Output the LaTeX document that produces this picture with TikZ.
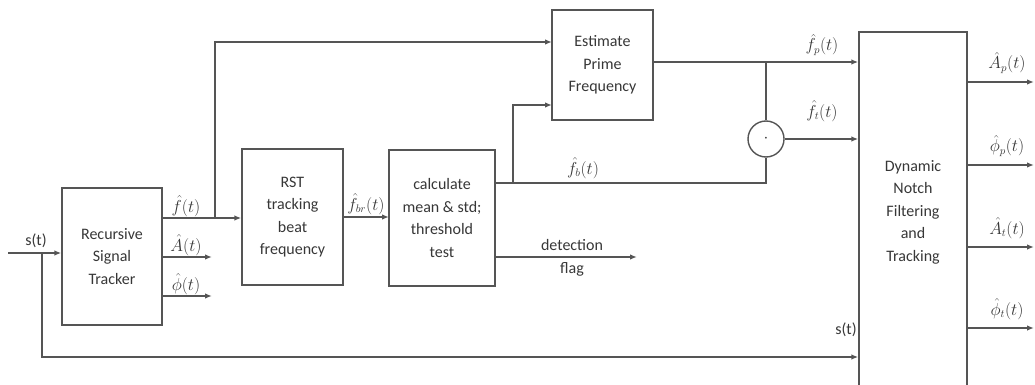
\documentclass[tikz,border=0pt]{standalone}
\usepackage{fontspec}
\setmainfont{Carlito}
\usetikzlibrary{arrows.meta}
\definecolor{wireg}{RGB}{85,85,85}
\definecolor{txtg}{RGB}{55,55,55}
\tikzset{
  blk/.style={draw=wireg, rectangle, align=center, inner sep=0pt, text=txtg},
  lbl/.style={text=txtg, inner sep=0pt, font=\fontsize{16}{18}\selectfont},
}
\begin{document}
\begin{tikzpicture}[x=1pt, y=-1pt, >={Latex[length=7pt,width=5.5pt]}, line width=1.4pt, color=wireg,
  font=\fontsize{16}{22.5}\selectfont]
\useasboundingbox (0,0) rectangle (1035,385);
\node[blk, minimum width=100pt, minimum height=137pt] (rst) at (112,256.5) {Recursive\\Signal\\Tracker};
\node[blk, minimum width=101pt, minimum height=136pt] (beat) at (292.5,217) {RST\\tracking\\beat\\frequency};
\node[blk, minimum width=106pt, minimum height=136pt] (calc) at (442,218) {calculate\\mean \& std;\\threshold\\test};
\node[blk, minimum width=101pt, minimum height=110pt] (prime) at (602.5,65) {Estimate\\Prime\\Frequency};
\node[blk, minimum width=108pt, minimum height=360pt] (dnft) at (913,212) {Dynamic\\Notch\\Filtering\\and\\Tracking};
\node[draw=wireg, circle, minimum size=36pt, inner sep=0pt, text=txtg] (sub) at (766,139) {$\cdot$};
% input s(t)
\coordinate (in) at (8,253);
\coordinate (tap) at (42,253);
\coordinate (sbot) at (42,357);
\draw[->] (in) -- (in -| rst.west);
\draw[->] (tap) -- (sbot) -- (sbot -| dnft.west);
\node[lbl] (sin) at (36,241) {s(t)};
\node[lbl] (sout) at (846,330) {s(t)};
% tracker outputs
\coordinate (fj) at (215,218);
\coordinate (ao) at (212,257);
\coordinate (po) at (212,296);
\coordinate (ptop) at (552,42);
\draw[->] (rst.east |- fj) -- (beat.west |- fj);
\draw[->] (fj) |- (ptop);
\draw[->] (rst.east |- ao) -- (ao);
\draw[->] (rst.east |- po) -- (po);
\node[lbl] (lf) at (186,206) {$\hat{f}(t)$};
\node[lbl] (la) at (186,245) {$\hat{A}(t)$};
\node[lbl] (lp) at (186,284) {$\hat{\phi}(t)$};
% beat frequency
\coordinate (br) at (389,217);
\draw[->] (beat.east |- br) -- (br);
\node[lbl] (lbr) at (366,204) {$\hat{f}_{br}(t)$};
% mean / threshold outputs
\coordinate (bj) at (513,183);
\coordinate (bc) at (766,183);
\coordinate (plow) at (552,105);
\coordinate (det) at (637,257);
\draw (calc.east |- bj) -- (bc) -- (sub.south);
\draw[->] (bj) |- (plow);
\draw[->] (calc.east |- det) -- (det);
\node[lbl] (lb) at (583,168) {$\hat{f}_{b}(t)$};
\node[lbl] (ldet) at (572,245) {detection};
\node[lbl] (lflag) at (572,269) {flag};
% prime frequency
\coordinate (pj) at (766,62);
\draw[->] (prime.east |- pj) -- (pj -| dnft.west);
\draw (pj) -- (sub.north);
\draw[->] (sub.east) -- (sub.east -| dnft.west);
\node[lbl] (lfp) at (822,45) {$\hat{f}_{p}(t)$};
\node[lbl] (lft) at (822,111) {$\hat{f}_{t}(t)$};
% notch outputs
\foreach \yy/\txt [count=\i] in {82/{\hat{A}_{p}(t)}, 165/{\hat{\phi}_{p}(t)}, 247/{\hat{A}_{t}(t)}, 328/{\hat{\phi}_{t}(t)}} {
  \coordinate (o\i) at (1034,\yy);
  \draw[->] (dnft.east |- o\i) -- (o\i);
  \node[lbl] (lo\i) at (1007,\yy-19) {$\txt$};
}
\end{tikzpicture}
\end{document}
